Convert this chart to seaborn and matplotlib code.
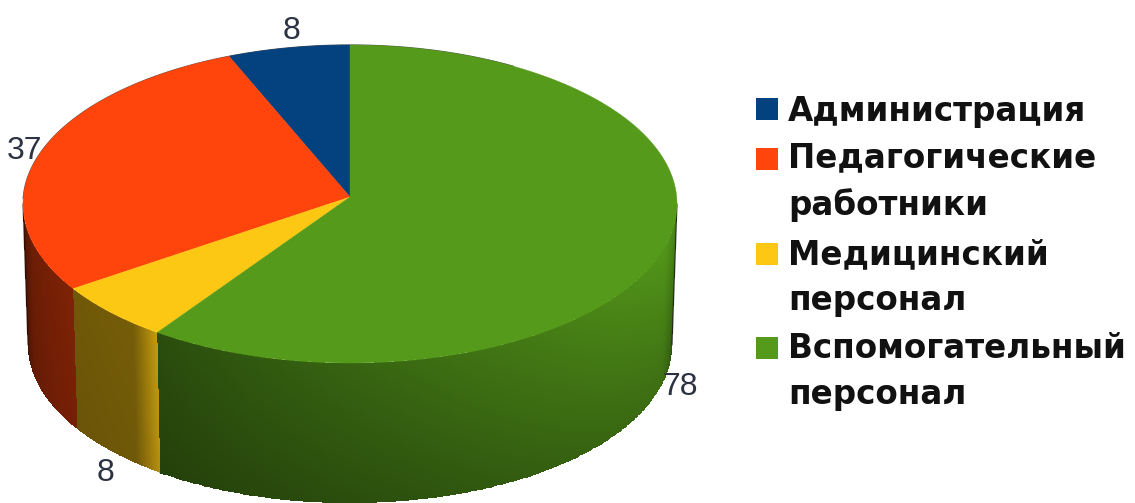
import numpy as np
import matplotlib
matplotlib.use("Agg")
import matplotlib.pyplot as plt
import seaborn as sns
from matplotlib.patches import Rectangle

categories = ["Администрация", "Педагогические\nработники", "Медицинский\nперсонал", "Вспомогательный\nперсонал"]
values = [8, 37, 8, 78]
value_labels = ["8", "37", "8", "78"]

sns.set_theme(style="white", rc={"font.family": "Liberation Sans"})
palette = sns.color_palette(["#04427f", "#ff450c", "#fdc813", "#559a1a"])

# pixel layout of the drawn pie
APEX = (350, 197)
TOP = (350, 204, 327, 159)
BOTTOM = (350, 345, 322, 158)
SWEEP = 0.988  # perspective squeezes the back of the pie a little
LABEL_XY = [(291, 31), (25, 151), (105, 473), (680, 387)]
LEGEND_TOPS = [98, 148, 243, 337]
LEGEND_BASE = [121, 215, 310, 404]

# side shading by position inside the slice: (frac, top edge, bottom edge)
SHADES = {
    1: [(0.0, 0.22, 0.22), (0.4, 0.42, 0.40), (1.0, 0.50, 0.46)],
    2: [(0.0, 0.44, 0.42), (0.75, 0.46, 0.44), (1.0, 0.78, 0.72)],
    3: [(0.0, 0.50, 0.42), (0.35, 0.68, 0.52), (0.70, 0.88, 0.66),
        (0.88, 0.97, 0.72), (1.0, 0.80, 0.50)],
}


def rim(ell, deg):
    t = np.radians(deg)
    return ell[0] + ell[2] * np.cos(t), ell[1] - ell[3] * np.sin(t)


fig, ax = plt.subplots(figsize=(11.35, 5.03), dpi=100)
ax.set_position([0, 0, 1, 1])
ax.set_xlim(0, 1135)
ax.set_ylim(503, 0)
ax.axis("off")

# slices run counter clockwise from 12 o'clock
edges = 90 + np.concatenate([[0], np.cumsum(values)]) / sum(values) * 360 * SWEEP
edges[-1] = 450

# side wall, only the front half is visible
for i, shade in SHADES.items():
    a0 = max(edges[i], 180)
    a1 = min(edges[i + 1], 360)
    ang = np.linspace(a0, a1, 220)
    frac = np.linspace(0, 1, 220)
    hh = np.linspace(0, 1, 41)
    tx, ty = rim(TOP, ang)
    bx, by = rim(BOTTOM, ang)
    X = np.outer(1 - hh, tx) + np.outer(hh, bx)
    Y = np.outer(1 - hh, ty) + np.outer(hh, by)
    s = np.array(shade)
    fmid = (frac[:-1] + frac[1:]) / 2
    hmid = (hh[:-1] + hh[1:]) / 2
    b_top = np.interp(fmid, s[:, 0], s[:, 1])
    b_bot = np.interp(fmid, s[:, 0], s[:, 2])
    b = np.outer(1 - hmid, b_top) + np.outer(hmid, b_bot)
    C = b[:, :, None] * np.array(palette[i])
    ax.pcolormesh(X, Y, C, shading="flat", antialiased=False, zorder=2)

# dark rim that the original has round the silhouette
xx, yy = rim(TOP, np.linspace(60, 178, 200))
ax.plot(xx, yy, color="#1c1c1c", lw=0.9, alpha=0.75, zorder=4)
ax.plot([677, 672], [204, 345], color="#1c1c1c", lw=0.9, alpha=0.8, zorder=4)
ax.plot([23, 28], [204, 345], color="#2a0a02", lw=0.9, alpha=0.7, zorder=4)

# top face
for i in range(len(values)):
    xx, yy = rim(TOP, np.linspace(edges[i], edges[i + 1], 300))
    ax.fill(np.r_[APEX[0], xx], np.r_[APEX[1], yy], color=palette[i], lw=0.3, zorder=5)

for txt, (x, y) in zip(value_labels, LABEL_XY):
    ax.text(x, y, txt, fontsize=23, color="#2b3242", ha="center", va="center", zorder=6)

# legend: swatch sits on the first line of each entry
for name, col, top, base in zip(categories, palette, LEGEND_TOPS, LEGEND_BASE):
    ax.add_patch(Rectangle((756, top), 22, 22, facecolor=col, edgecolor="none"))
    ax.text(788, base, name, family="DejaVu Sans", weight="bold", fontsize=23.5, color="#111111",
            ha="left", va="baseline", linespacing=1.5)

fig.savefig("out.png", dpi=100)
